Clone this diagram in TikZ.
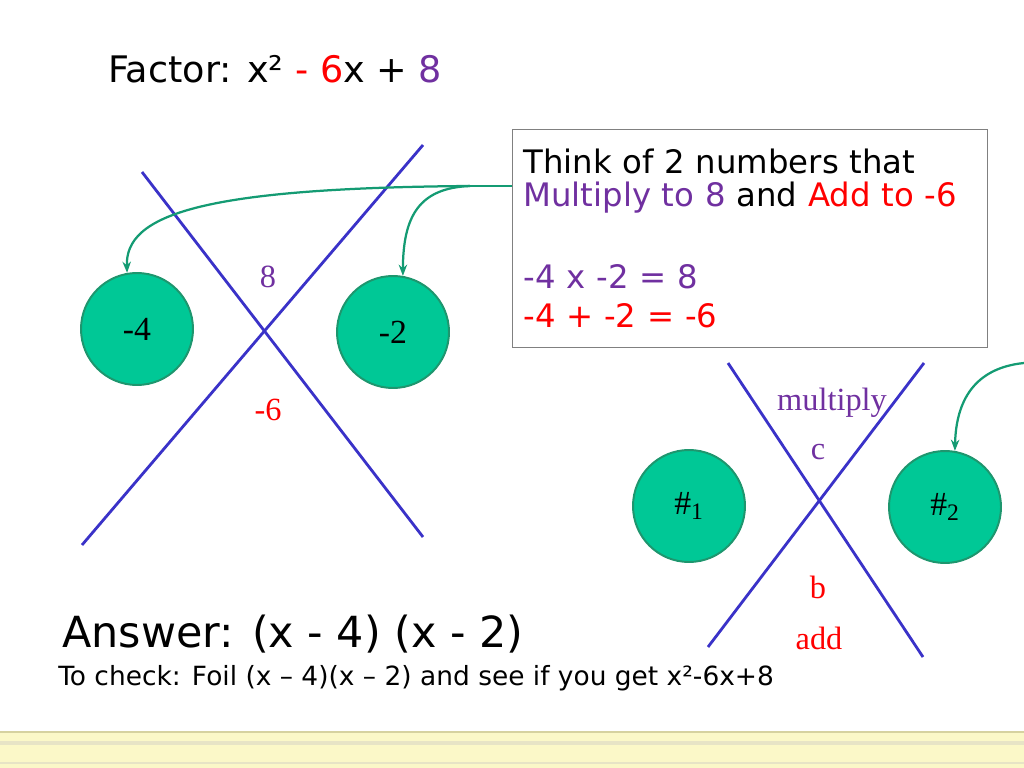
\documentclass[tikz,border=0pt]{standalone}
\usepackage{fontspec}
\setmainfont{DejaVu Sans}
\newfontfamily\labelfont{Liberation Serif}
\usetikzlibrary{positioning, arrows.meta}

\definecolor{xblue}{RGB}{58,50,200}
\definecolor{ballfill}{RGB}{0,200,150}
\definecolor{balldraw}{RGB}{30,150,110}
\definecolor{arrowgreen}{RGB}{20,155,115}
\definecolor{mulpurple}{RGB}{112,48,160}
\definecolor{addred}{RGB}{255,0,0}
\definecolor{bandfill}{RGB}{251,248,200}
\definecolor{bandline}{RGB}{214,210,160}

\begin{document}
\begin{tikzpicture}[
  ball/.style={circle, draw=balldraw, line width=1.4pt, fill=ballfill, minimum size=2.8cm, inner sep=0pt, font=\labelfont\fontsize{24}{26}\selectfont},
  xline/.style={xblue, line width=2pt},
  tag/.style={font=\labelfont\fontsize{23}{25}\selectfont, inner sep=0pt},
  pointer/.style={-{Stealth[length=8pt, width=6pt]}, arrowgreen, line width=1.6pt}
]
\useasboundingbox (0,0) rectangle (25.6,-19.2);

% Bottom band
\fill[bandfill] (0,-18.275) rectangle (25.6,-19.2);
\draw[bandline, line width=1pt] (0,-18.3) -- (25.6,-18.3);
\draw[bandline!60, line width=3pt] (0,-18.58) -- (25.6,-18.58);
\draw[bandline!60, line width=1.5pt] (0,-19.07) -- (25.6,-19.07);

% Title
\node[anchor=base west, inner sep=0pt, font=\fontsize{26}{30}\selectfont] (title) at (2.7,-2.075)
  {Factor: x² \textcolor{addred}{- 6}x + \textcolor{mulpurple}{8}};

% Left X
\draw[xline] (3.55,-4.3) -- (10.575,-13.425);
\draw[xline] (2.05,-13.625) -- (10.575,-3.625);
\node[tag, mulpurple] (prod) at (6.7,-6.925) {8};
\node[tag, addred] (sum) at (6.7,-10.25) {-6};
\node[ball] (m4) at (3.425,-8.225) {-4};
\node[ball] (m2) at (9.825,-8.3) {-2};

% Hint box
\node[draw=gray, line width=0.6pt, fill=white, anchor=north west, minimum height=5.45cm,
  text width=11.325cm, inner xsep=0.275cm, align=left, font=\fontsize{23}{23.5}\selectfont] (box) at (12.8,-3.225)
  {Think of 2 numbers that\\
   \textcolor{mulpurple}{Multiply to 8} and \textcolor{addred}{Add to -6}\\[34.8pt]
   \textcolor{mulpurple}{-4 x -2 = 8}\\[4.9pt]
   \textcolor{addred}{-4 + -2 = -6}};

% Pointers from box
\coordinate (src) at ([yshift=-1.425cm]box.north west);
\coordinate (fork) at ([xshift=-1.05cm]src);
\draw[arrowgreen, line width=1.6pt] (src) -- (fork);
\draw[pointer] (fork) .. controls (5,-4.7) and (3.125,-5.375) .. (m4.100);
\draw[pointer] (fork) .. controls (10.5,-4.7) and (10.075,-5.375) .. (m2.80);

% Right X
\draw[xline] (18.2,-9.075) -- (23.075,-16.425);
\draw[xline] (17.7,-16.175) -- (23.1,-9.075);
\node[tag, mulpurple] (mul) at (20.8,-10.075) {multiply};
\node[tag, mulpurple] (c) at (20.45,-11.3) {c};
\node[tag, addred] (b) at (20.45,-14.675) {b};
\node[tag, addred] (add) at (20.475,-15.95) {add};
\node[ball] (n1) at (17.225,-12.65) {\#\textsubscript{1}};
\node[ball] (n2) at (23.625,-12.675) {\#\textsubscript{2}};

\coordinate (offr) at (25.6,-9.075);
\draw[pointer] (offr) .. controls (24.375,-9.2) and (23.9,-10) .. (n2.80);

% Answer
\node[anchor=base west, inner sep=0pt, font=\fontsize{30.5}{34}\selectfont] (answer) at (1.55,-16.175)
  {Answer: (x - 4) (x - 2)};
\node[anchor=base west, inner sep=0pt, font=\fontsize{18.8}{22}\selectfont] (check) at (1.45,-17.125)
  {To check: Foil (x – 4)(x – 2) and see if you get x²-6x+8};

\end{tikzpicture}
\end{document}
